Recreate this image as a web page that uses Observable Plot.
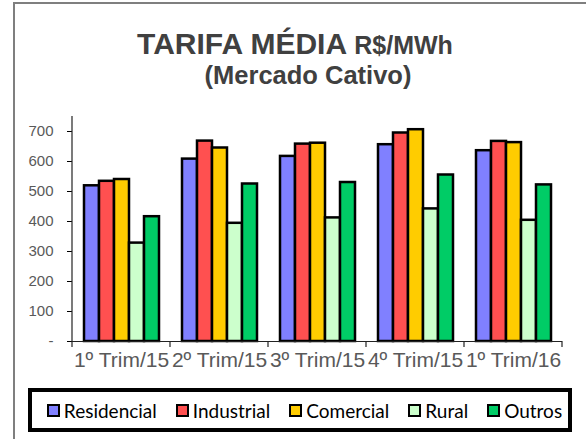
<!DOCTYPE html>
<html>
<head>
<meta charset="utf-8">
<script src="https://cdn.jsdelivr.net/npm/d3@7"></script>
<script src="https://cdn.jsdelivr.net/npm/@observablehq/plot@0.6"></script>
<style>
  html, body { margin: 0; padding: 0; background: #fff; }
  #wrap { position: relative; width: 586px; height: 439px; overflow: hidden; font-family: "Liberation Sans", Arial, sans-serif; }
  #frame { position: absolute; left: 13px; top: 2px; width: 620px; height: 480px; border: 2px solid #7f7f7f; box-sizing: border-box; }
  .tl { position: absolute; width: 600px; text-align: center; color: #404040; font-weight: bold; line-height: 1; white-space: nowrap; }
  #t1 { left: -5px; top: 29px; font-size: 30px; }
  #t1 small { font-size: 25px; }
  #t2 { left: 8px; top: 63px; font-size: 25.5px; }
  #chart { position: absolute; left: 0; top: 0; }
  #legend { position: absolute; left: 28px; top: 388px; width: 544px; height: 44px; border: 4px solid #000; box-sizing: border-box; padding-left: 9px; display: flex; align-items: center; justify-content: center; gap: 19px; font-family: Lato, "Open Sans", sans-serif; font-size: 19px; color: #000; }
  #legend .it { display: flex; align-items: center; gap: 4px; }
  #legend .sw { width: 9px; height: 9px; border: 2px solid #000; }
  svg g[aria-label="y-axis tick label"] text { font-size: 15px; fill: #595959; }
  svg g[aria-label="fx-axis tick label"] text { font-size: 21px; fill: #595959; }
</style>
</head>
<body>
<div id="wrap">
  <div id="frame"></div>
  <div class="tl" id="t1">TARIFA MÉDIA <small>R$/MWh</small></div>
  <div class="tl" id="t2">(Mercado Cativo)</div>
  <div id="chart"></div>
  <div id="legend"></div>
</div>
<script>
const quarters = ["1º Trim/15", "2º Trim/15", "3º Trim/15", "4º Trim/15", "1º Trim/16"];
const series = ["Residencial", "Industrial", "Comercial", "Rural", "Outros"];
const residencial = [519, 608, 617, 656, 636];
const industrial  = [534, 668, 658, 695, 667];
const comercial   = [540, 645, 661, 706, 663];
const rural       = [328, 394, 412, 442, 404];
const outros      = [416, 525, 530, 555, 522];
const colors = ["#8080FF", "#FF5050", "#FFCC00", "#CCFFCC", "#00CC66"];
const yTicks = [0, 100, 200, 300, 400, 500, 600, 700];

const values = [residencial, industrial, comercial, rural, outros];
const data = [];
quarters.forEach((q, i) => series.forEach((s, j) => data.push({quarter: q, series: s, value: values[j][i]})));

const chart = Plot.plot({
  width: 586,
  height: 439,
  marginLeft: 72,
  marginRight: 24,
  marginTop: 116,
  marginBottom: 98,
  style: {background: "transparent", fontFamily: "Liberation Sans, Arial, sans-serif"},
  fx: {domain: quarters, padding: 0, axis: "bottom", tickSize: 0, tickPadding: 11, label: null},
  x: {domain: series, paddingInner: 0, paddingOuter: 0.72, axis: null},
  y: {domain: [0, 750], ticks: yTicks, tickFormat: d => d === 0 ? "-" : d, tickSize: 5, tickPadding: 14, label: null},
  color: {domain: series, range: colors},
  marks: [
    Plot.barY(data, {fx: "quarter", x: "series", y: "value", fill: "series", stroke: "#000", strokeWidth: 2.5}),
    Plot.ruleY([0], {stroke: "#222", strokeWidth: 1.2})
  ]
});
document.getElementById("chart").appendChild(chart);

// axis line and category boundary ticks derived from the plot's scales
const fx = chart.scale("fx"), y = chart.scale("y");
const svg = d3.select(chart);
const y0 = y.apply(0), yTop = y.apply(750);
const xLeft = fx.apply(quarters[0]);
svg.append("line").attr("x1", xLeft).attr("x2", xLeft).attr("y1", y0).attr("y2", yTop).attr("stroke", "#222").attr("stroke-width", 1.2);
const bounds = quarters.map(q => fx.apply(q)).concat([fx.apply(quarters[quarters.length - 1]) + fx.bandwidth]);
svg.selectAll("line.bt").data(bounds).join("line").attr("class", "bt")
  .attr("x1", d => d).attr("x2", d => d).attr("y1", y0).attr("y2", y0 + 6)
  .attr("stroke", "#222").attr("stroke-width", 1.2);

const legend = document.getElementById("legend");
series.forEach((s, i) => {
  const it = document.createElement("div");
  it.className = "it";
  it.innerHTML = `<span class="sw" style="background:${colors[i]}"></span><span>${s}</span>`;
  legend.appendChild(it);
});
</script>
</body>
</html>
